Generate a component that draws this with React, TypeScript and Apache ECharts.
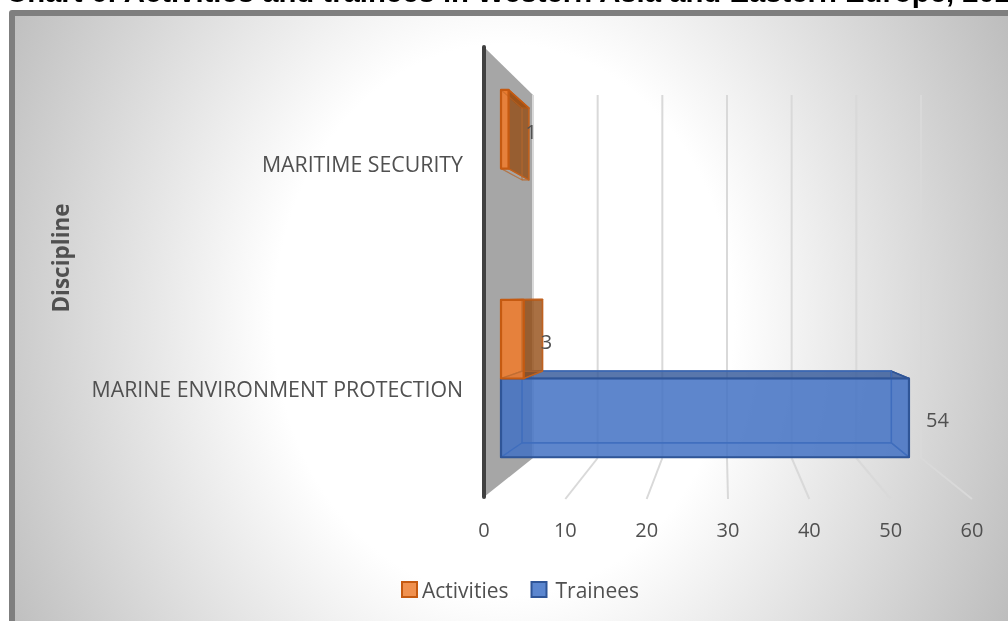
import React, { useEffect, useRef } from "react";
import * as echarts from "echarts";

const TITLE = "Chart 6: Activities and trainees in Western Asia and Eastern Europe, 202";
const AXIS_NAME = "Discipline";
const categories = ["MARINE ENVIRONMENT PROTECTION", "MARITIME SECURITY"];
const activities = [3, 1];
const trainees = [54, 0];
const xTicks = [0, 10, 20, 30, 40, 50, 60];

const FRONT = { x0: 484, x1: 972, y0: 47, y1: 497 };
const BACK = { x0: 533, x1: 921, y0: 95, y1: 458 };
const LABEL_SHIFT = 3.5;
const NEAR = 0.347;
const FAR = 0.776;
const TEXT = "#505050";
const FONT = "Open Sans";

const lerp = (a: number, b: number, t: number) => a + (b - a) * t;
const project = (px: number, py: number, d: number) => {
  const u = (px - FRONT.x0) / (FRONT.x1 - FRONT.x0);
  const v = (py - LABEL_SHIFT - FRONT.y0) / (FRONT.y1 - FRONT.y0);
  return [
    lerp(lerp(FRONT.x0, BACK.x0, d), lerp(FRONT.x1, BACK.x1, d), u),
    lerp(lerp(FRONT.y0, BACK.y0, d), lerp(FRONT.y1, BACK.y1, d), v),
  ];
};

type Look = { near: string; nearO: number; top: string; side: string; sideO: number; edge: string; inner: string; innerO: number; lo: number; hi: number };
const ACT: Look = { near: "#ED7D31", nearO: 0.9, top: "#C55A11", side: "#934C14", sideO: 0.8, edge: "#C55A11", inner: "#B86A30", innerO: 0.55, lo: -0.375, hi: 0 };
const TRA: Look = { near: "#4472C4", nearO: 0.86, top: "#2F5597", side: "#2F5597", sideO: 0.06, edge: "#2F5597", inner: "#3F6EBE", innerO: 0.9, lo: 0, hi: 0.375 };

const boxItem = (look: Look) => (_p: any, api: any) => {
  const value = api.value(0);
  if (!value) return { type: "group", children: [] };
  const cat = api.value(1);
  const [x0, cy] = api.coord([0, cat]);
  const [x1] = api.coord([value, cat]);
  const band = api.size([0, 1])[1];
  const yT = cy + look.lo * band;
  const yB = cy + look.hi * band;
  const quad = (pts: number[][], fill: string, opacity: number, stroke = look.edge, lineW = 1.5, strokeOpacity = 1) => ({
    type: "polygon",
    shape: { points: pts },
    style: { fill, fillOpacity: opacity, stroke, strokeOpacity, lineWidth: lineW, lineJoin: "round" },
  });
  const nTL = project(x0, yT, NEAR), nTR = project(x1, yT, NEAR), nBR = project(x1, yB, NEAR), nBL = project(x0, yB, NEAR);
  const fTL = project(x0, yT, FAR), fTR = project(x1, yT, FAR), fBR = project(x1, yB, FAR), fBL = project(x0, yB, FAR);
  return {
    type: "group",
    children: [
      quad([nTL, nTR, fTR, fTL], look.top, 0.8, look.edge, 1.5),
      quad([nTR, nBR, fBR, fTR], look.side, look.sideO, look.edge, 1.5),
      quad([nTL, nTR, nBR, nBL], look.near, look.nearO, look.near, 0),
      quad([fTL, fTR, fBR, fBL], look.side, 0, look.inner, 1.1, look.innerO),
      quad([nBL, nBR, fBR, fBL], look.side, 0, look.inner, 1.1, look.innerO),
      quad([nTL, nBL, fBL, fTL], look.side, 0, look.inner, 1.1, look.innerO),
      quad([nTL, nTR, nBR, nBL], look.near, 0, look.edge, 2.2),
      {
        type: "text",
        style: {
          x: nBR[0] + 17,
          y: (nTR[1] + nBR[1]) / 2 + 2,
          text: String(value),
          fill: TEXT,
          font: `20px "${FONT}"`,
          align: "left",
          verticalAlign: "middle",
        },
      },
    ],
  };
};

const scaffoldItem = (_p: any, api: any) => {
  const tick = api.value(0);
  const band = api.size([0, 1])[1];
  const [x, c0] = api.coord([tick, 0]);
  const [, c1] = api.coord([tick, 1]);
  const bottom = c0 + band / 2;
  const top = c1 - band / 2;
  const backTop = project(x, top, 1);
  const backBottom = project(x, bottom, 1);
  const children: any[] = [];
  const gridStyle = { stroke: "#d9d9d9", lineWidth: 2 };
  if (tick === 0) {
    const fTop = project(x, top, 0);
    const fBottom = project(x, bottom, 0);
    children.push({
      type: "polygon",
      shape: { points: [fTop, backTop, backBottom, fBottom] },
      style: { fill: "#a6a6a6" },
    });
    children.push({
      type: "line",
      shape: { x1: fTop[0], y1: fTop[1], x2: fBottom[0], y2: fBottom[1] },
      style: { stroke: "#404040", lineWidth: 4, lineCap: "round" },
    });
  } else {
    const f = project(x, bottom, 0);
    children.push({
      type: "line",
      shape: { x1: backBottom[0], y1: backBottom[1], x2: f[0], y2: f[1] + 2 },
      style: gridStyle,
    });
  }
  children.push({
    type: "line",
    shape: { x1: backTop[0], y1: backTop[1], x2: backBottom[0], y2: backBottom[1] },
    style: gridStyle,
  });
  return { type: "group", children };
};

export default function App() {
  const ref = useRef<HTMLDivElement>(null);
  useEffect(() => {
    const chart = echarts.init(ref.current!, undefined, { renderer: "svg" });
    const cy = 320;
    const stretch = 1.2;
    chart.setOption({
      animation: false,
      title: {
        text: TITLE,
        left: 1,
        top: -28,
        textStyle: { fontFamily: "Liberation Sans", fontWeight: "bold", fontSize: 29.3, color: "#000000" },
      },
      graphic: {
        elements: [
          { type: "rect", z: -20, shape: { x: 9, y: 10, width: 1100, height: 700, r: 3 }, style: { fill: "#7f7f7f" } },
          {
            type: "group",
            z: -19,
            x: 0,
            y: cy,
            scaleY: stretch,
            children: [
              {
                type: "rect",
                z: -19,
                shape: { x: 15, y: (16 - cy) / stretch, width: 1000, height: (621 - 16) / stretch },
                style: {
                  fill: new (echarts.graphic as any).RadialGradient(
                    504,
                    0,
                    600,
                    [
                      { offset: 0, color: "#ffffff" },
                      { offset: 0.383, color: "#ffffff" },
                      { offset: 1, color: "#b6b6b6" },
                    ],
                    true,
                  ),
                },
              },
            ],
          },
        ],
      },
      grid: { left: FRONT.x0, top: FRONT.y0 + LABEL_SHIFT, width: FRONT.x1 - FRONT.x0, height: FRONT.y1 - FRONT.y0 },
      legend: {
        data: [{ name: "Activities" }, { name: "Trainees", textStyle: { padding: [0, 0, 0, 4] } }],
        left: 396,
        top: 574,
        icon: "rect",
        itemWidth: 15,
        itemHeight: 15,
        itemGap: 22,
        textStyle: { fontFamily: FONT, fontSize: 21, color: TEXT },
      },
      xAxis: {
        type: "value",
        min: 0,
        max: 60,
        interval: 10,
        axisLine: { show: false },
        axisTick: { show: false },
        splitLine: { show: false },
        axisLabel: { margin: 18.5, fontFamily: FONT, fontSize: 20, color: TEXT, formatter: (v: number) => String(v) },
      },
      yAxis: {
        type: "category",
        data: categories,
        name: AXIS_NAME,
        nameLocation: "middle",
        nameGap: 412,
        nameTextStyle: { fontFamily: FONT, fontWeight: "bold", fontSize: 22.5, color: TEXT, padding: [0, 0, 0, 35] },
        axisLine: { show: false },
        axisTick: { show: false },
        splitLine: { show: false },
        axisLabel: { margin: 21, fontFamily: FONT, fontSize: 21.3, color: TEXT },
      },
      series: [
        {
          type: "custom",
          name: "scaffold",
          z: 1,
          silent: true,
          clip: false,
          data: xTicks.map((t) => [t, 0]),
          encode: { x: 0, y: 1 },
          renderItem: scaffoldItem,
        },
        {
          type: "custom",
          name: "Trainees",
          z: 2,
          clip: false,
          itemStyle: { color: "#5B86CF", borderColor: "#2F5597", borderWidth: 1.5 },
          data: trainees.map((v, i) => [v, i]),
          encode: { x: 0, y: 1 },
          renderItem: boxItem(TRA),
        },
        {
          type: "custom",
          name: "Activities",
          z: 3,
          clip: false,
          itemStyle: { color: "#F0914F", borderColor: "#C55A11", borderWidth: 1.5 },
          data: activities.map((v, i) => [v, i]),
          encode: { x: 0, y: 1 },
          renderItem: boxItem(ACT),
        },
      ],
    });
    return () => chart.dispose();
  }, []);
  return <div ref={ref} style={{ position: "fixed", left: 0, top: 0, width: 1008, height: 621, overflow: "hidden" }} />;
}
